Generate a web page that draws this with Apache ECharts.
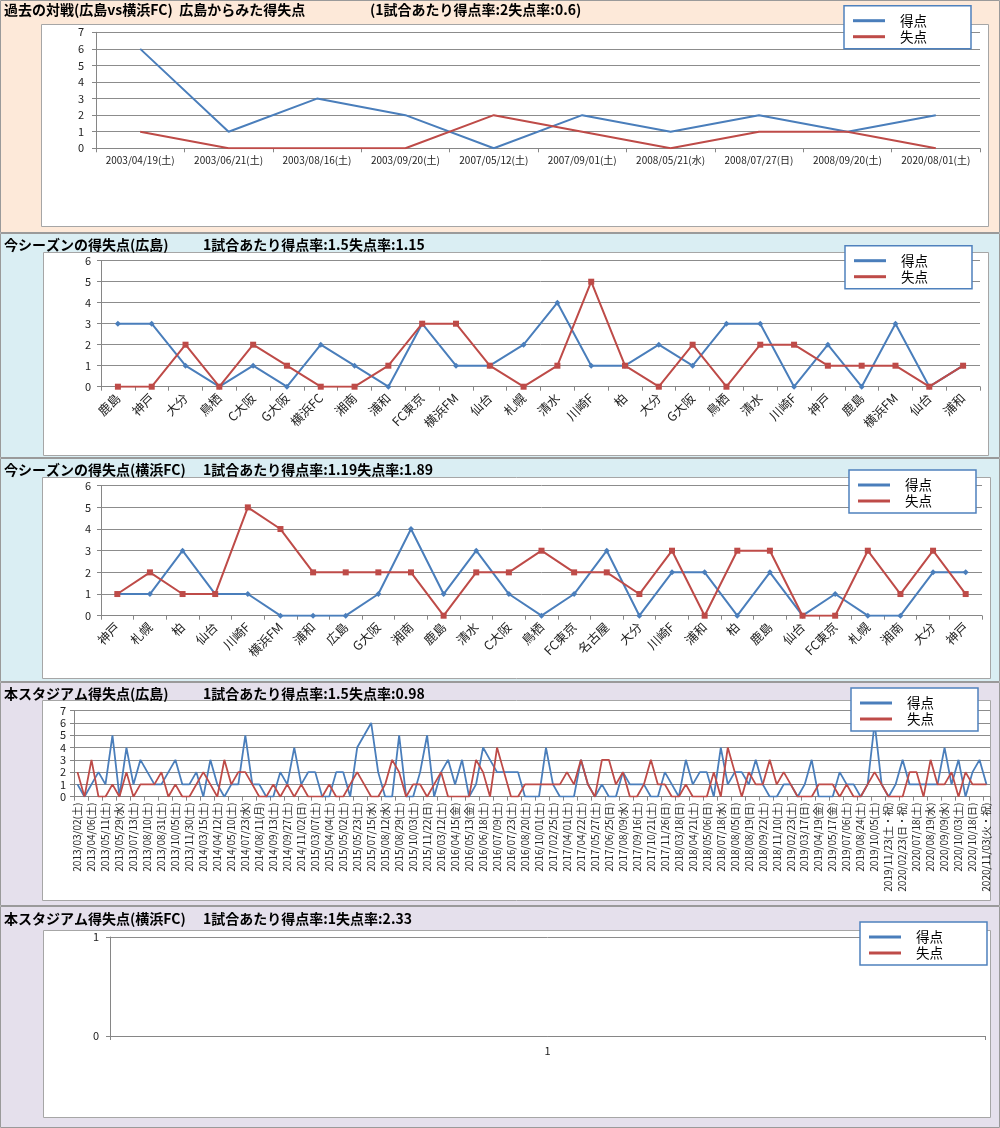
<!DOCTYPE html>
<html><head><meta charset="utf-8">
<script src="https://cdn.jsdelivr.net/npm/echarts/dist/echarts.min.js"></script>
<style>html,body{margin:0;padding:0;background:#fff}#c{width:1000px;height:1128px}</style>
</head><body><div id="c"></div>
<script>
// ---------- Panel 1: past matches ----------
const p1Dates = ['2003/04/19(土)','2003/06/21(土)','2003/08/16(土)','2003/09/20(土)','2007/05/12(土)','2007/09/01(土)','2008/05/21(水)','2008/07/27(日)','2008/09/20(土)','2020/08/01(土)'];
const p1For = [6,1,3,2,0,2,1,2,1,2];
const p1Against = [1,0,0,0,2,1,0,1,1,0];
// ---------- Panel 2: this season Hiroshima ----------
const p2Teams = ['鹿島','神戸','大分','鳥栖','C大阪','G大阪','横浜FC','湘南','浦和','FC東京','横浜FM','仙台','札幌','清水','川崎F','柏','大分','G大阪','鳥栖','清水','川崎F','神戸','鹿島','横浜FM','仙台','浦和'];
const p2For = [3,3,1,0,1,0,2,1,0,3,1,1,2,4,1,1,2,1,3,3,0,2,0,3,0,1];
const p2Against = [0,0,2,0,2,1,0,0,1,3,3,1,0,1,5,1,0,2,0,2,2,1,1,1,0,1];
// ---------- Panel 3: this season Yokohama FC ----------
const p3Teams = ['神戸','札幌','柏','仙台','川崎F','横浜FM','浦和','広島','G大阪','湘南','鹿島','清水','C大阪','鳥栖','FC東京','名古屋','大分','川崎F','浦和','柏','鹿島','仙台','FC東京','札幌','湘南','大分','神戸'];
const p3For = [1,1,3,1,1,0,0,0,1,4,1,3,1,0,1,3,0,2,2,0,2,0,1,0,0,2,2];
const p3Against = [1,2,1,1,5,4,2,2,2,2,0,2,2,3,2,2,1,3,0,3,3,0,0,3,1,3,1];
// ---------- Panel 4: this stadium Hiroshima ----------
const p4Labels = ['2013/03/02(土)','2013/04/06(土)','2013/05/11(土)','2013/05/29(水)','2013/07/13(土)','2013/08/10(土)','2013/08/31(土)','2013/10/05(土)','2013/11/30(土)','2014/03/15(土)','2014/04/12(土)','2014/05/10(土)','2014/07/23(水)','2014/08/11(月)','2014/09/13(土)','2014/09/27(土)','2014/11/02(日)','2015/03/07(土)','2015/04/04(土)','2015/05/02(土)','2015/05/23(土)','2015/07/15(水)','2015/08/12(水)','2015/08/29(土)','2015/10/03(土)','2015/11/22(日)','2016/03/12(土)','2016/04/15(金)','2016/05/13(金)','2016/06/18(土)','2016/07/09(土)','2016/07/23(土)','2016/08/20(土)','2016/10/01(土)','2017/02/25(土)','2017/04/01(土)','2017/04/22(土)','2017/05/27(土)','2017/06/25(日)','2017/08/09(水)','2017/09/16(土)','2017/10/21(土)','2017/11/26(日)','2018/03/18(日)','2018/04/21(土)','2018/05/06(日)','2018/07/18(水)','2018/08/05(日)','2018/08/19(日)','2018/09/22(土)','2018/11/10(土)','2019/02/23(土)','2019/03/17(日)','2019/04/19(金)','2019/05/17(金)','2019/07/06(土)','2019/08/24(土)','2019/10/05(土)','2019/11/23(土・祝)','2020/02/23(日・祝)','2020/07/18(土)','2020/08/19(水)','2020/09/09(水)','2020/10/03(土)','2020/10/18(日)','2020/11/03(火・祝)'];
const p4For = [1,0,1,2,1,5,0,4,1,3,2,1,1,2,3,1,1,2,0,3,1,0,1,1,5,1,1,0,0,2,1,4,
  1,2,2,0,0,2,2,0,4,5,6,2,0,0,5,0,0,2,5,0,2,3,1,3,0,1,4,3,2,2,2,2,0,
  0,0,4,1,0,0,0,3,1,0,1,0,0,2,1,1,1,0,0,2,1,0,3,1,2,2,0,4,1,2,2,
  1,3,1,0,0,1,1,0,1,3,0,0,0,2,1,1,0,1,6,1,0,1,3,1,1,1,1,1,4,1,3,0,2,3,1];
const p4Against = [2,0,3,0,0,1,0,2,0,1,1,1,2,0,1,0,0,1,2,1,0,3,1,2,2,1,0,0,1,0,1,0,
  1,0,0,0,1,0,0,1,2,1,0,0,1,3,2,0,1,1,0,1,2,0,0,0,0,3,2,0,4,2,0,0,1,
  1,1,1,1,1,2,1,3,1,0,3,3,1,2,0,0,1,3,1,1,0,0,1,0,0,0,2,0,4,2,0,
  2,1,1,3,1,2,1,0,0,0,1,1,1,0,1,0,0,1,2,1,0,0,0,2,2,0,3,1,1,2,0,2,1,1,1];
// ---------- Panel 5: this stadium Yokohama FC ----------
const p5Cats = ['1'];
const p5For = [];
const p5Against = [];
// ---------- Titles ----------
const titleMain = ['過去の対戦(広島vs横浜FC)  広島からみた得失点','今シーズンの得失点(広島)','今シーズンの得失点(横浜FC)','本スタジアム得失点(広島)','本スタジアム得失点(横浜FC)'];
const titleRate = ['(1試合あたり得点率:2失点率:0.6)','1試合あたり得点率:1.5失点率:1.15','1試合あたり得点率:1.19失点率:1.89','1試合あたり得点率:1.5失点率:0.98','1試合あたり得点率:1失点率:2.33'];
const yMax = [7,6,6,7,1];

// interleave hidden (unlabelled) matches between labelled ones
const p4Cats = [];
p4Labels.forEach((l,i)=>{ p4Cats.push(l); if(i<p4Labels.length-1) p4Cats.push(''); });

const FONT = '"Noto Sans CJK JP","Noto Sans",sans-serif';
const BLUE = '#4A7EBB', RED = '#BE4B48';
const GRID = '#8c8c8c', AXIS = '#868686';

const grids = [
  {left:96, top:32.3, width:884, height:116},
  {left:101, top:260.7, width:879, height:126},
  {left:101, top:485.7, width:881, height:130},
  {left:74, top:710.7, width:916, height:86},
  {left:110, top:937, width:875, height:99}
].map(g=>Object.assign({containLabel:false, outerBoundsMode:'none', show:false}, g));

const xData = [p1Dates, p2Teams, p3Teams, p4Cats, p5Cats];
const xLabel = [
  {fontSize:10, margin:7, rotate:0, interval:0},
  {fontSize:12.5, margin:9, rotate:45, interval:0},
  {fontSize:12.5, margin:9, rotate:45, interval:0},
  {fontSize:10, margin:6, rotate:90, interval:1},
  {fontSize:11, margin:9, rotate:0, interval:0}
];
const xAxes = xData.map((d,i)=>({
  type:'category', gridIndex:i, data:d, boundaryGap:true,
  axisLine:{show:true, lineStyle:{color:AXIS, width:1}},
  axisTick:{show:true, length:4, lineStyle:{color:AXIS}, interval: i===3 ? 1 : 0},
  axisLabel:Object.assign({color:'#222', fontFamily:FONT, hideOverlap:false}, xLabel[i]),
  splitLine:{show:false}
}));
const yMargin = [12,10,10,8,11];
const yAxes = yMax.map((m,i)=>({
  type:'value', gridIndex:i, min:0, max:m, interval:1,
  axisLine:{show:true, lineStyle:{color:AXIS, width:1}},
  axisTick:{show:true, length:4, lineStyle:{color:AXIS}},
  axisLabel:{color:'#222', fontFamily:FONT, fontSize:11, margin:yMargin[i]},
  splitLine:{show:true, lineStyle:{color:GRID, width:1}}
}));

const forData = [p1For, p2For, p3For, p4For, p5For];
const agData = [p1Against, p2Against, p3Against, p4Against, p5Against];
const series = [];
for (let i=0;i<5;i++){
  const marks = (i===1 || i===2);
  series.push({type:'line', name:'得点', xAxisIndex:i, yAxisIndex:i, data:forData[i],
    symbol: marks ? 'diamond' : 'none', symbolSize:6, showSymbol:marks,
    lineStyle:{color:BLUE, width: i===3 ? 1.8 : 2}, itemStyle:{color:BLUE}, emphasis:{disabled:true}});
  series.push({type:'line', name:'失点', xAxisIndex:i, yAxisIndex:i, data:agData[i],
    symbol: marks ? 'rect' : 'none', symbolSize:6, showSymbol:marks,
    lineStyle:{color:RED, width: i===3 ? 1.8 : 2}, itemStyle:{color:RED}, emphasis:{disabled:true}});
}

const legPos = [[844,5.7],[845,245.7],[849,470],[851,688],[860,922]];
const legends = legPos.map(p=>({
  left:p[0], top:p[1], orient:'vertical', data:['得点','失点'], icon:'rect',
  itemWidth:32, itemHeight:3, itemGap:2, padding:[8,44,5,9],
  backgroundColor:'#fff', borderColor:'#4F81BD', borderWidth:1.5, borderRadius:0,
  selectedMode:false,
  textStyle:{fontSize:13.5, color:'#000', fontFamily:FONT, lineHeight:14, padding:[0,0,0,10]}
}));

const tTop = [3,238,463,687,912];
const rateLeft = [370,203,203,203,203];
const titles = [];
for (let i=0;i<5;i++){
  titles.push({text:titleMain[i], left:4, top:tTop[i], padding:0,
    textStyle:{fontSize:14, fontWeight:'bold', color:'#000', fontFamily:FONT}});
  titles.push({text:titleRate[i], left:rateLeft[i], top:tTop[i], padding:0,
    textStyle:{fontSize:14, fontWeight:'bold', color:'#000', fontFamily:FONT}});
}

const panels = [[0,233,'#FDE9D9'],[233,225,'#DAEEF3'],[458,224,'#DAEEF3'],[682,224,'#E5E0EC'],[906,222,'#E5E0EC']];
const boxes = [[41,24,947,202],[43,252,945,203],[42,477,948,201],[42,700,948,200],[43,930,947,187]];
const graphic = [];
panels.forEach(p=>graphic.push({type:'rect', z:-20, silent:true,
  shape:{x:0.5, y:p[0]+0.5, width:999, height:p[1]-1},
  style:{fill:p[2], stroke:'#9a9a9a', lineWidth:1}}));
boxes.forEach(b=>graphic.push({type:'rect', z:-10, silent:true,
  shape:{x:b[0]+0.5, y:b[1]+0.5, width:b[2], height:b[3]},
  style:{fill:'#fff', stroke:'#a6a6a6', lineWidth:1}}));

const chart = echarts.init(document.getElementById('c'), null, {renderer:'canvas'});
chart.setOption({
  animation:false,
  backgroundColor:'#fff',
  textStyle:{fontFamily:FONT},
  title:titles,
  legend:legends,
  grid:grids,
  xAxis:xAxes,
  yAxis:yAxes,
  series:series,
  graphic:graphic,
  tooltip:{show:false}
});
</script></body></html>
